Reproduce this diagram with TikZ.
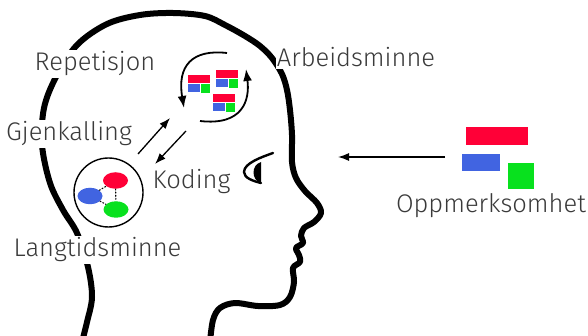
\documentclass[tikz,border=0pt]{standalone}
\usepackage{fontspec}
\IfFontExistsTF{Fira Sans Light}{\setmainfont{Fira Sans Light}}{\setmainfont{Fira Sans}}
\usetikzlibrary{arrows.meta,shapes.geometric}
\definecolor{memRed}{RGB}{255,0,55}
\definecolor{memBlue}{RGB}{65,100,225}
\definecolor{memGreen}{RGB}{8,225,30}
\definecolor{labelInk}{RGB}{58,58,58}

\tikzset{
  cardset/.pic={
    \fill[memRed] (0,0) rectangle (22,8);
    \fill[memBlue] (0,9) rectangle (12,17.5);
    \fill[memGreen] (13,9) rectangle (22,18.5);
  }
}

\begin{document}
\begin{tikzpicture}[
  x=1pt,y=-1pt,
  >=Latex,
  head/.style={line width=6pt,line cap=round,line join=round},
  lid/.style={line width=2.4pt,line cap=round},
  label/.style={fill=white,text=labelInk,inner xsep=1pt,inner ysep=2pt,anchor=base,font=\fontsize{25.5}{30}\selectfont},
  store/.style={draw,circle,line width=1.4pt,minimum size=69pt,inner sep=0pt},
  blob/.style={ellipse,minimum width=25pt,minimum height=16.5pt,inner sep=0pt},
  link/.style={dotted,line width=1.1pt,line cap=round},
  flow/.style={-{Latex[length=11pt,width=8pt]},line width=1.3pt},
  rehearse/.style={-{Latex[length=12pt,width=9pt]},line width=1.8pt}
]
\useasboundingbox (0,0) rectangle (588,336);

% head outline
\draw[head] plot[smooth,tension=0.55] coordinates {
  (82,342) (87,322) (92,297) (88,267) (77,233) (63,210) (50,183)
  (42,145) (44,108) (56,77) (77,45) (107,24) (140,15) (173,13)
  (205,16) (225,25) (245,36) (260,46) (272,58) (282,74) (287,90)
  (290,110) (292,135) (292,162) (296,178) (305,191) (317,203)
  (321,213) (314,222) (304,228) (301,236) (303,243) (296,248)
  (299,255) (300,262) (293,268) (294,282) (290,297) (280,305)
  (258,306) (235,303) (220,308) (213,320) (210,342)};

% eye
\draw[lid] (273,153) .. controls (262,157) and (244,163) .. (244,172)
  .. controls (244,178) and (253,181) .. (261,183);
\fill (261,162) .. controls (251,165) and (251,180) .. (261,183) -- cycle;

% long-term memory
\node[store] (ltm) at (108.5,192.5) {};
\node[blob,fill=memRed] (ltmRed) at (115.5,180.5) {};
\node[blob,fill=memBlue] (ltmBlue) at (90,196) {};
\node[blob,fill=memGreen] (ltmGreen) at (116,209.5) {};
\draw[link] (ltmBlue) -- (ltmRed);
\draw[link] (ltmBlue) -- (ltmGreen);
\draw[link] (ltmRed) -- (ltmGreen);

% working memory
\pic at (188,75) {cardset};
\pic at (216,70) {cardset};
\pic at (213,94) {cardset};
\coordinate (wmTop) at (227,53);
\coordinate (wmLeft) at (184,108);
\coordinate (wmBottom) at (200,121);
\coordinate (wmRight) at (246,69);
\draw[rehearse] (wmTop) .. controls (192,49) and (177,66) .. (wmLeft);
\draw[rehearse] (wmBottom) .. controls (243,126) and (250,100) .. (wmRight);

% transfer between stores
\coordinate (recallFrom) at (138,154);
\coordinate (recallTo) at (170,118);
\coordinate (encodeFrom) at (186,131);
\coordinate (encodeTo) at (155,164);
\draw[flow] (recallFrom) -- (recallTo);
\draw[flow] (encodeFrom) -- (encodeTo);

% attention
\fill[memRed] (466,127) rectangle (528,145);
\fill[memBlue] (462,154) rectangle (500,171);
\fill[memGreen] (508,163) rectangle (534,189);
\coordinate (attFrom) at (445,157);
\coordinate (attTo) at (338,157);
\draw[flow] (attFrom) -- (attTo);

% labels
\node[label] (rep) at (95,71) {Repetisjon};
\node[label] (arb) at (356,67) {Arbeidsminne};
\node[label] (gjen) at (69,141) {Gjenkalling};
\node[label] (kod) at (191.5,189) {Koding};
\node[label] (lang) at (97.5,257) {Langtidsminne};
\node[label] (opp) at (491,213) {Oppmerksomhet};
\end{tikzpicture}
\end{document}
